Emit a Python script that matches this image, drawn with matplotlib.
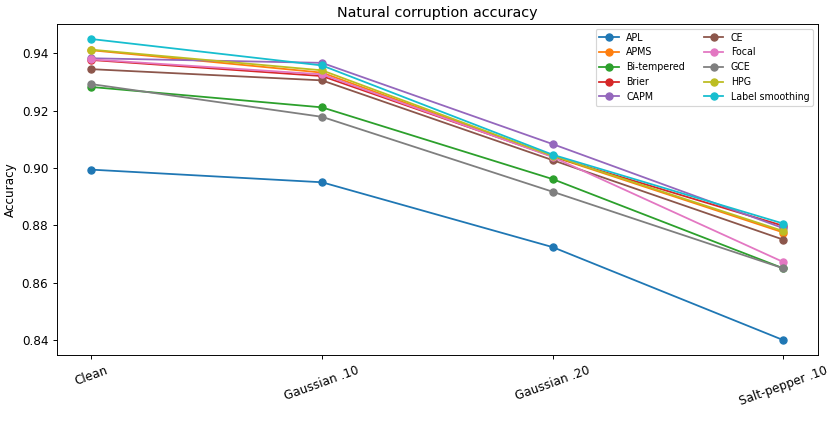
import matplotlib
matplotlib.use("Agg")
import matplotlib.pyplot as plt

corruptions = ["Clean", "Gaussian .10", "Gaussian .20", "Salt-pepper .10"]

apl = [0.8994, 0.8950, 0.8724, 0.8400]
apms = [0.9410, 0.9332, 0.9040, 0.8775]
bi_tempered = [0.9282, 0.9211, 0.8961, 0.8650]
brier = [0.9376, 0.9320, 0.9040, 0.8798]
capm = [0.9382, 0.9366, 0.9083, 0.8790]
ce = [0.9344, 0.9305, 0.9027, 0.8750]
focal = [0.9378, 0.9326, 0.9038, 0.8672]
gce = [0.9292, 0.9178, 0.8917, 0.8650]
hpg = [0.9412, 0.9340, 0.9042, 0.8780]
label_smoothing = [0.9449, 0.9357, 0.9046, 0.8806]

series = [
    ("APL", apl), ("APMS", apms), ("Bi-tempered", bi_tempered), ("Brier", brier),
    ("CAPM", capm), ("CE", ce), ("Focal", focal), ("GCE", gce),
    ("HPG", hpg), ("Label smoothing", label_smoothing),
]

dpi = 86
fig = plt.figure(figsize=(833 / dpi, 444 / dpi), dpi=dpi)
ax = fig.add_axes([0.068, 0.2, 0.914, 0.746])
x = range(len(corruptions))
for name, vals in series:
    ax.plot(x, vals, marker="o", markersize=6, linewidth=1.5, label=name)

ax.set_xticks(list(x))
ax.set_xticklabels(corruptions, rotation=20)
ax.set_ylabel("Accuracy")
ax.set_title("Natural corruption accuracy")
ax.legend(ncol=2, fontsize=8, loc="upper right")
fig.savefig("out.png", dpi=dpi)
